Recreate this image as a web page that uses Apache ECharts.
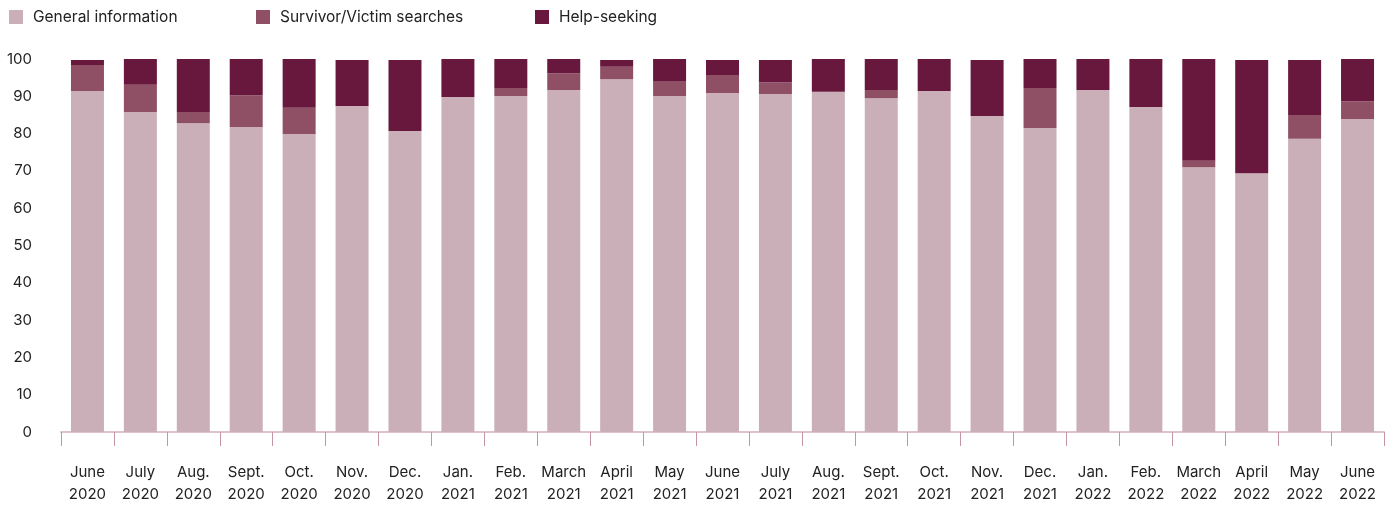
<!DOCTYPE html>
<html>
<head>
<meta charset="utf-8">
<style>
  html, body { margin: 0; padding: 0; background: #fff; }
  #chart { width: 1388px; height: 506px; }
</style>
<script src="https://cdn.jsdelivr.net/npm/echarts@6/dist/echarts.min.js"></script>
</head>
<body>
<div id="chart"></div>
<script>
// Monthly share (%) of search types, June 2020 – June 2022
const months = [
  "June\n2020", "July\n2020", "Aug.\n2020", "Sept.\n2020", "Oct.\n2020", "Nov.\n2020", "Dec.\n2020",
  "Jan.\n2021", "Feb.\n2021", "March\n2021", "April\n2021", "May\n2021", "June\n2021", "July\n2021",
  "Aug.\n2021", "Sept.\n2021", "Oct.\n2021", "Nov.\n2021", "Dec.\n2021",
  "Jan.\n2022", "Feb.\n2022", "March\n2022", "April\n2022", "May\n2022", "June\n2022"
];
const generalInformation = [
  91.4, 85.8, 82.8, 81.8, 79.9, 87.4, 80.7,
  89.8, 90.1, 91.7, 94.6, 90.1, 90.9, 90.6,
  91.2, 89.5, 91.4, 84.7, 81.5,
  91.7, 87.1, 71.0, 69.4, 78.6, 83.9
];
const survivorSearches = [
  7.0, 7.3, 3.0, 8.5, 7.0, 0, 0,
  0, 2.1, 4.5, 3.3, 4.0, 4.8, 3.2,
  0, 2.2, 0, 0, 10.7,
  0, 0, 1.7, 0, 6.4, 4.8
];
const helpSeeking = [
  1.3, 6.9, 14.2, 9.7, 13.1, 12.3, 19.0,
  10.2, 7.8, 3.8, 1.8, 5.9, 4.0, 5.9,
  8.8, 8.3, 8.6, 15.0, 7.8,
  8.3, 12.9, 27.3, 30.3, 14.7, 11.3
];
const yTicks = { min: 0, max: 100, step: 10 };
const seriesNames = ["General information", "Survivor/Victim searches", "Help-seeking"];
const seriesColors = ["#cbafb8", "#8f5066", "#69183d"];

const FONT = "Inter, 'Open Sans', sans-serif";
const chart = echarts.init(document.getElementById("chart"), null, { renderer: "canvas" });

const legendLeft = [9, 256, 535];
const legends = seriesNames.map((name, i) => ({
  data: [name],
  left: legendLeft[i],
  top: 9,
  itemWidth: 14,
  itemHeight: 14,
  itemGap: 0,
  icon: "rect",
  padding: 0,
  selectedMode: false,
  textStyle: { fontFamily: FONT, fontSize: 15.5, color: "#222", padding: [0, 0, 0, 5] }
}));

const dataSets = [generalInformation, survivorSearches, helpSeeking];

chart.setOption({
  animation: false,
  legend: legends,
  grid: { left: 61, right: 4, top: 59, bottom: 74, containLabel: false },
  xAxis: {
    type: "category",
    data: months,
    boundaryGap: true,
    axisLine: { lineStyle: { color: "#dcc2cb", width: 2 } },
    axisTick: { show: true, length: 14, lineStyle: { color: "#c495a8", width: 1 } },
    axisLabel: {
      interval: 0,
      margin: 29,
      fontFamily: FONT,
      fontSize: 15,
      lineHeight: 22,
      color: "#222",
      align: "center"
    }
  },
  yAxis: {
    type: "value",
    min: yTicks.min,
    max: yTicks.max,
    interval: yTicks.step,
    splitLine: { show: false },
    axisLine: { show: false },
    axisTick: { show: false },
    axisLabel: { margin: 29, fontFamily: FONT, fontSize: 15, color: "#222" }
  },
  series: seriesNames.map((name, i) => ({
    name: name,
    type: "bar",
    stack: "share",
    barWidth: 33,
    itemStyle: { color: seriesColors[i] },
    data: dataSets[i]
  }))
});
</script>
</body>
</html>
